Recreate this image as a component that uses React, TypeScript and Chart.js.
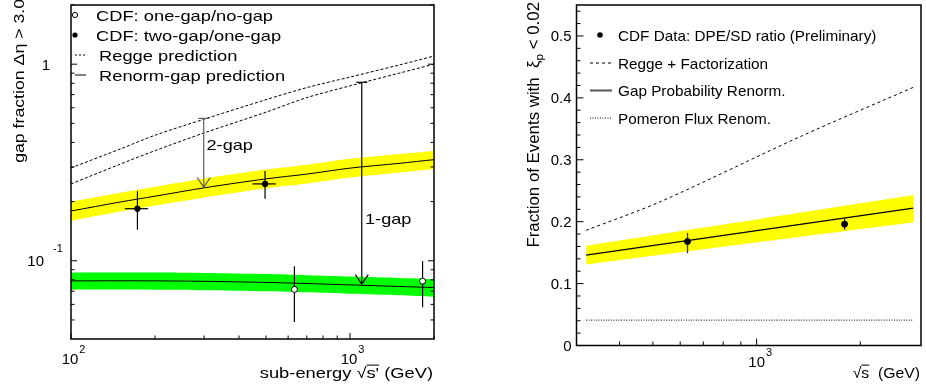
import React, { useEffect, useRef } from "react";
import { Chart, registerables } from "chart.js";

Chart.register(...registerables);

const FONT = '"Liberation Sans", Arial, Helvetica, sans-serif';

// ---------------- Left panel: gap fraction vs sub-energy ----------------
const curveEnergy = [100, 150, 200, 300, 500, 700, 1000, 1500, 2000];
const twoGapRenorm = [0.179, 0.199, 0.213, 0.235, 0.261, 0.276, 0.296, 0.313, 0.327];
const twoGapBandUp = [0.2, 0.222, 0.238, 0.262, 0.291, 0.308, 0.33, 0.349, 0.362];
const twoGapBandLo = [0.16, 0.178, 0.191, 0.21, 0.234, 0.247, 0.265, 0.281, 0.293];
const reggeTwoGap = [0.297, 0.37, 0.435, 0.525, 0.66, 0.76, 0.86, 0.99, 1.1];
const reggeOneGap = [0.246, 0.31, 0.363, 0.447, 0.57, 0.676, 0.776, 0.9, 1.0];
const oneGapRenorm = [0.079, 0.0791, 0.079, 0.0786, 0.0776, 0.0766, 0.0754, 0.074, 0.0731];
const oneGapBandUp = [0.0871, 0.0872, 0.0871, 0.0867, 0.0856, 0.0845, 0.0832, 0.0818, 0.0806];
const oneGapBandLo = [0.0713, 0.0714, 0.0713, 0.0709, 0.07, 0.0691, 0.068, 0.0668, 0.0657];

const twoGapEnergy = [173, 496];
const twoGapFrac = [0.184, 0.246];
const twoGapFracLo = [0.144, 0.207];
const twoGapFracHi = [0.226, 0.286];
const twoGapEnergyLo = [156, 447];
const twoGapEnergyHi = [189, 542];

const oneGapEnergy = [632, 1820];
const oneGapFrac = [0.0715, 0.0788];
const oneGapFracLo = [0.0488, 0.058];
const oneGapFracHi = [0.0937, 0.0996];

const arrowEnergy = [299, 1102];
const arrowFrom = [0.53, 0.809];
const arrowTo = [0.237, 0.076];
const arrowText = ["2-gap", "1-gap"];
const arrowColor = ["#606060", "#000000"];

const leftLegend = ["CDF: one-gap/no-gap", "CDF: two-gap/one-gap", "Regge prediction", "Renorm-gap prediction"];

const leftXMajor = [100, 1000];
const leftXExp = ["2", "3"];
const leftXMinor = [200, 300, 400, 500, 600, 700, 800, 900, 2000];
const leftYMajor = [0.1, 1];
const leftYMinor = [0.05, 0.06, 0.07, 0.08, 0.09, 0.2, 0.3, 0.4, 0.5, 0.6, 0.7, 0.8, 0.9, 2];

// ---------------- Right panel: DPE/SD ratio vs sqrt(s) ----------------
const bandEnergy = [320, 2850];
const gapRenormFrac = [0.146, 0.222];
const gapRenormUp = [0.161, 0.243];
const gapRenormLo = [0.131, 0.199];
const pomeronFluxFrac = [0.041, 0.041];
const reggeFactEnergy = [320, 524, 1358, 2850];
const reggeFactFrac = [0.186, 0.232, 0.339, 0.417];

const dpeEnergy = [630, 1800];
const dpeFrac = [0.168, 0.196];
const dpeFracLo = [0.149, 0.187];
const dpeFracHi = [0.182, 0.206];

const rightLegend = ["CDF Data: DPE/SD ratio (Preliminary)", "Regge + Factorization", "Gap Probability Renorm.", "Pomeron Flux Renom."];

const rightXMajor = [1000];
const rightXMinor = [400, 500, 600, 700, 800, 900, 2000];
const rightYMajor = [0, 0.1, 0.2, 0.3, 0.4, 0.5];
const rightYLabels = ["0", "0.1", "0.2", "0.3", "0.4", "0.5"];
const rightYMinor = [0.02, 0.04, 0.06, 0.08, 0.12, 0.14, 0.16, 0.18, 0.22, 0.24, 0.26, 0.28, 0.32, 0.34, 0.36, 0.38, 0.42, 0.44, 0.46, 0.48, 0.52, 0.54];

// ---------------- helpers ----------------
const pts = (xs: number[], ys: number[]) => xs.map((x, i) => ({ x, y: ys[i] }));

type Seg = { t: string; size: number; dy?: number; bar?: boolean };

function rich(
  ctx: CanvasRenderingContext2D,
  segs: Seg[],
  x: number,
  y: number,
  align: "left" | "right" | "center",
  stretch = 1,
  rotate = false
) {
  ctx.save();
  ctx.translate(x, y);
  if (rotate) ctx.rotate(-Math.PI / 2);
  ctx.scale(stretch, 1);
  ctx.fillStyle = "#000";
  ctx.textAlign = "left";
  ctx.textBaseline = "alphabetic";
  const widths = segs.map((s) => {
    ctx.font = `${s.size}px ${FONT}`;
    return ctx.measureText(s.t).width;
  });
  const total = widths.reduce((a, b) => a + b, 0);
  let cx = align === "left" ? 0 : align === "right" ? -total : -total / 2;
  segs.forEach((s, i) => {
    ctx.font = `${s.size}px ${FONT}`;
    const dy = s.dy || 0;
    ctx.fillText(s.t, cx, dy);
    if (s.bar) {
      ctx.strokeStyle = "#000";
      ctx.lineWidth = 1;
      ctx.beginPath();
      ctx.moveTo(cx, dy - s.size * 0.86);
      ctx.lineTo(cx + widths[i], dy - s.size * 0.86);
      ctx.stroke();
    }
    cx += widths[i];
  });
  ctx.restore();
}

function seg(ctx: CanvasRenderingContext2D, x1: number, y1: number, x2: number, y2: number) {
  ctx.beginPath();
  ctx.moveTo(x1, y1);
  ctx.lineTo(x2, y2);
  ctx.stroke();
}

const band = (data: any[], color: string, fill: any) => ({
  data,
  fill,
  backgroundColor: color,
  borderColor: "rgba(0,0,0,0)",
  borderWidth: 0,
  pointRadius: 0,
  tension: 0.3,
  order: 10,
});

const curve = (data: any[], dash: number[], width = 1, color = "#000") => ({
  data,
  fill: false,
  borderColor: color,
  borderWidth: width,
  borderDash: dash,
  pointRadius: 0,
  tension: 0.3,
  order: 5,
});

const marks = (data: any[], filled: boolean, r: number, errKey: string) => ({
  data,
  showLine: false,
  pointRadius: r,
  pointStyle: "circle",
  pointBackgroundColor: filled ? "#000" : "#fff",
  pointBorderColor: "#000",
  pointBorderWidth: 1,
  order: 0,
  errKey,
});

// ---------------- left chart config ----------------
function leftConfig(): any {
  const plugin = {
    id: "leftDecor",
    beforeDatasetDraw(chart: any, args: any) {
      const ds = chart.data.datasets[args.index];
      if (!ds.errKey) return;
      const ctx = chart.ctx;
      const xs = chart.scales.x;
      const ys = chart.scales.y;
      ctx.save();
      ctx.strokeStyle = "#000";
      ctx.lineWidth = 1.2;
      if (ds.errKey === "two") {
        twoGapEnergy.forEach((e, i) => {
          const px = xs.getPixelForValue(e);
          const py = ys.getPixelForValue(twoGapFrac[i]);
          seg(ctx, px, ys.getPixelForValue(twoGapFracLo[i]), px, ys.getPixelForValue(twoGapFracHi[i]));
          seg(ctx, xs.getPixelForValue(twoGapEnergyLo[i]), py, xs.getPixelForValue(twoGapEnergyHi[i]), py);
        });
      } else {
        oneGapEnergy.forEach((e, i) => {
          const px = xs.getPixelForValue(e);
          seg(ctx, px, ys.getPixelForValue(oneGapFracLo[i]), px, ys.getPixelForValue(oneGapFracHi[i]));
        });
      }
      ctx.restore();
    },
    afterDatasetsDraw(chart: any) {
      const ctx = chart.ctx;
      const xs = chart.scales.x;
      const ys = chart.scales.y;
      ctx.save();
      arrowEnergy.forEach((e, i) => {
        const px = xs.getPixelForValue(e);
        const y1 = ys.getPixelForValue(arrowFrom[i]);
        const y2 = ys.getPixelForValue(arrowTo[i]);
        ctx.strokeStyle = arrowColor[i];
        ctx.lineWidth = 1.2;
        seg(ctx, px, y1, px, y2);
        seg(ctx, px - 5.5, y1, px + 5.5, y1);
        ctx.beginPath();
        ctx.moveTo(px - 6.5, y2 - 9.5);
        ctx.lineTo(px, y2);
        ctx.lineTo(px + 6.5, y2 - 9.5);
        ctx.stroke();
      });
      ctx.restore();
      rich(ctx, [{ t: arrowText[0], size: 15 }], 206.5, 150, "left", 1.21);
      rich(ctx, [{ t: arrowText[1], size: 15 }], 365, 224, "left", 1.21);
    },
    afterDraw(chart: any) {
      const ctx = chart.ctx;
      const a = chart.chartArea;
      const xs = chart.scales.x;
      const ys = chart.scales.y;
      ctx.save();
      ctx.strokeStyle = "#000";
      ctx.lineWidth = 1.5;
      ctx.strokeRect(a.left, a.top, a.right - a.left, a.bottom - a.top);
      ctx.lineWidth = 1;
      leftXMajor.forEach((v) => {
        const px = xs.getPixelForValue(v);
        seg(ctx, px, a.bottom, px, a.bottom - 6);
      });
      leftXMinor.forEach((v) => {
        const px = xs.getPixelForValue(v);
        seg(ctx, px, a.bottom, px, a.bottom - 3.5);
      });
      leftYMajor.forEach((v) => {
        const py = ys.getPixelForValue(v);
        seg(ctx, a.left, py, a.left + 6, py);
        seg(ctx, a.right, py, a.right - 6, py);
      });
      leftYMinor.forEach((v) => {
        const py = ys.getPixelForValue(v);
        seg(ctx, a.left, py, a.left + 3.5, py);
        seg(ctx, a.right, py, a.right - 3.5, py);
      });
      ctx.restore();

      // x tick labels 10^2, 10^3
      ctx.save();
      ctx.font = `15px ${FONT}`;
      const w10 = ctx.measureText("10").width;
      ctx.restore();
      leftXMajor.forEach((v, i) => {
        const px = xs.getPixelForValue(v);
        rich(ctx, [{ t: "10", size: 15 }], px - 1, 364, "center");
        rich(ctx, [{ t: leftXExp[i], size: 11 }], px - 1 + w10 / 2 + 1, 353, "left");
      });
      // y tick labels
      const p1 = ys.getPixelForValue(1);
      rich(ctx, [{ t: "1", size: 15 }], 50, p1 + 5.5, "right");
      const p01 = ys.getPixelForValue(0.1);
      rich(ctx, [{ t: "10", size: 15 }], 44, p01 + 5.5, "right");
      rich(ctx, [{ t: "-1", size: 11 }], 53, p01 - 9, "left");

      // axis titles
      rich(
        ctx,
        [
          { t: "sub-energy ", size: 15 },
          { t: "\u221A", size: 15 },
          { t: "s'", size: 15, bar: true },
          { t: " (GeV)", size: 15 },
        ],
        433,
        378,
        "right",
        1.22
      );
      rich(ctx, [{ t: "gap fraction \u0394\u03B7 > 3.0", size: 15 }], 24, -1, "right", 1.18, true);

      // legend
      const ly = [15, 35, 55, 75];
      ctx.save();
      ctx.strokeStyle = "#000";
      ctx.lineWidth = 1;
      ctx.beginPath();
      ctx.arc(75, ly[0], 2.6, 0, Math.PI * 2);
      ctx.fillStyle = "#fff";
      ctx.fill();
      ctx.stroke();
      ctx.beginPath();
      ctx.arc(75, ly[1], 2.6, 0, Math.PI * 2);
      ctx.fillStyle = "#000";
      ctx.fill();
      ctx.setLineDash([2, 2]);
      seg(ctx, 75, ly[2], 86, ly[2]);
      ctx.setLineDash([]);
      seg(ctx, 75, ly[3], 86, ly[3]);
      ctx.restore();
      rich(ctx, [{ t: leftLegend[0], size: 15 }], 96, ly[0] + 5.5, "left", 1.22);
      rich(ctx, [{ t: leftLegend[1], size: 15 }], 96, ly[1] + 5.5, "left", 1.22);
      rich(ctx, [{ t: leftLegend[2], size: 15 }], 99, ly[2] + 5.5, "left", 1.22);
      rich(ctx, [{ t: leftLegend[3], size: 15 }], 99, ly[3] + 5.5, "left", 1.22);
    },
  };

  return {
    type: "line",
    data: {
      datasets: [
        band(pts(curveEnergy, twoGapBandUp), "#ffff00", "+1"),
        band(pts(curveEnergy, twoGapBandLo), "#ffff00", false),
        band(pts(curveEnergy, oneGapBandUp), "#00ff00", "+1"),
        band(pts(curveEnergy, oneGapBandLo), "#00ff00", false),
        curve(pts(curveEnergy, twoGapRenorm), []),
        curve(pts(curveEnergy, oneGapRenorm), []),
        curve(pts(curveEnergy, reggeTwoGap), [3, 2]),
        curve(pts(curveEnergy, reggeOneGap), [3, 2]),
        marks(pts(twoGapEnergy, twoGapFrac), true, 2.8, "two"),
        marks(pts(oneGapEnergy, oneGapFrac), false, 3, "one"),
      ],
    },
    options: {
      animation: false,
      responsive: false,
      devicePixelRatio: 1,
      layout: { padding: { left: 71, top: 1, right: 29, bottom: 52 } },
      scales: {
        x: { type: "logarithmic", min: 100, max: 2000, display: false },
        y: { type: "logarithmic", min: 0.04, max: 2.0, display: false },
      },
      plugins: { legend: { display: false }, tooltip: { enabled: false } },
    },
    plugins: [plugin],
  };
}

// ---------------- right chart config ----------------
function rightConfig(): any {
  const plugin = {
    id: "rightDecor",
    beforeDatasetDraw(chart: any, args: any) {
      const ds = chart.data.datasets[args.index];
      if (!ds.errKey) return;
      const ctx = chart.ctx;
      const xs = chart.scales.x;
      const ys = chart.scales.y;
      ctx.save();
      ctx.strokeStyle = "#333";
      ctx.lineWidth = 1.3;
      dpeEnergy.forEach((e, i) => {
        const px = xs.getPixelForValue(e);
        seg(ctx, px, ys.getPixelForValue(dpeFracLo[i]), px, ys.getPixelForValue(dpeFracHi[i]));
      });
      ctx.restore();
    },
    afterDraw(chart: any) {
      const ctx = chart.ctx;
      const a = chart.chartArea;
      const xs = chart.scales.x;
      const ys = chart.scales.y;
      ctx.save();
      ctx.strokeStyle = "#000";
      ctx.lineWidth = 1.5;
      ctx.strokeRect(a.left, a.top, a.right - a.left, a.bottom - a.top);
      ctx.lineWidth = 1;
      rightXMajor.forEach((v) => {
        const px = xs.getPixelForValue(v);
        seg(ctx, px, a.bottom, px, a.bottom - 7);
      });
      rightXMinor.forEach((v) => {
        const px = xs.getPixelForValue(v);
        seg(ctx, px, a.bottom, px, a.bottom - 4);
      });
      rightYMajor.forEach((v) => {
        const py = ys.getPixelForValue(v);
        seg(ctx, a.left, py, a.left + 7, py);
      });
      rightYMinor.forEach((v) => {
        const py = ys.getPixelForValue(v);
        seg(ctx, a.left, py, a.left + 4, py);
      });
      ctx.restore();

      rightYMajor.forEach((v, i) => {
        const py = ys.getPixelForValue(v);
        rich(ctx, [{ t: rightYLabels[i], size: 15 }], a.left - 5, py + 5.5, "right");
      });
      ctx.save();
      ctx.font = `15px ${FONT}`;
      const w10 = ctx.measureText("10").width;
      ctx.restore();
      const p3 = xs.getPixelForValue(1000);
      rich(ctx, [{ t: "10", size: 15 }], p3, 367, "center");
      rich(ctx, [{ t: "3", size: 11 }], p3 + w10 / 2 + 1, 356, "left");

      rich(
        ctx,
        [
          { t: "\u221A", size: 15 },
          { t: "s", size: 15, bar: true },
          { t: "  (GeV)", size: 15 },
        ],
        a.right - 1,
        378,
        "right",
        1.05
      );
      rich(
        ctx,
        [
          { t: "Fraction of Events with  \u03BE", size: 16.5 },
          { t: "p", size: 11.5, dy: 4 },
          { t: " < 0.02", size: 16.5 },
        ],
        539 - 463,
        2,
        "right",
        1.02,
        true
      );

      // legend
      const ly = [35, 63, 90.5, 118];
      const lx = 618 - 463;
      ctx.save();
      ctx.fillStyle = "#000";
      ctx.beginPath();
      ctx.arc(600 - 463, ly[0], 2.8, 0, Math.PI * 2);
      ctx.fill();
      ctx.strokeStyle = "#000";
      ctx.lineWidth = 1;
      ctx.setLineDash([3, 3]);
      seg(ctx, 590 - 463, ly[1], 612 - 463, ly[1]);
      ctx.setLineDash([]);
      ctx.strokeStyle = "#555";
      ctx.lineWidth = 2;
      seg(ctx, 590 - 463, ly[2], 612 - 463, ly[2]);
      ctx.strokeStyle = "#000";
      ctx.lineWidth = 1;
      ctx.setLineDash([1, 1.5]);
      seg(ctx, 590 - 463, ly[3], 612 - 463, ly[3]);
      ctx.restore();
      rightLegend.forEach((t, i) => rich(ctx, [{ t, size: 15 }], lx, ly[i] + 5.5, "left", 1.02));
    },
  };

  return {
    type: "line",
    data: {
      datasets: [
        band(pts(bandEnergy, gapRenormUp), "#ffff00", "+1"),
        band(pts(bandEnergy, gapRenormLo), "#ffff00", false),
        curve(pts(bandEnergy, gapRenormFrac), [], 1.2),
        curve(pts(bandEnergy, pomeronFluxFrac), [1, 1.5]),
        curve(pts(reggeFactEnergy, reggeFactFrac), [3, 3]),
        marks(pts(dpeEnergy, dpeFrac), true, 3, "dpe"),
      ],
    },
    options: {
      animation: false,
      responsive: false,
      devicePixelRatio: 1,
      layout: { padding: { left: 113.5, top: 1.5, right: 3.5, bottom: 45.5 } },
      scales: {
        x: { type: "logarithmic", min: 300, max: 3000, display: false },
        y: { type: "linear", min: 0, max: 0.55, display: false },
      },
      plugins: { legend: { display: false }, tooltip: { enabled: false } },
    },
    plugins: [plugin],
  };
}

function Panel({ left, makeConfig }: { left: number; makeConfig: () => any }) {
  const ref = useRef<HTMLCanvasElement>(null);
  useEffect(() => {
    const chart = new Chart(ref.current as HTMLCanvasElement, makeConfig());
    return () => chart.destroy();
  }, []);
  return (
    <canvas
      ref={ref}
      width={463}
      height={391}
      style={{ position: "absolute", left, top: 0, width: 463, height: 391 }}
    />
  );
}

export default function App() {
  return (
    <div
      style={{
        position: "absolute",
        left: 0,
        top: 0,
        width: 926,
        height: 391,
        background: "#fff",
        overflow: "hidden",
      }}
    >
      <Panel left={0} makeConfig={leftConfig} />
      <Panel left={463} makeConfig={rightConfig} />
    </div>
  );
}
